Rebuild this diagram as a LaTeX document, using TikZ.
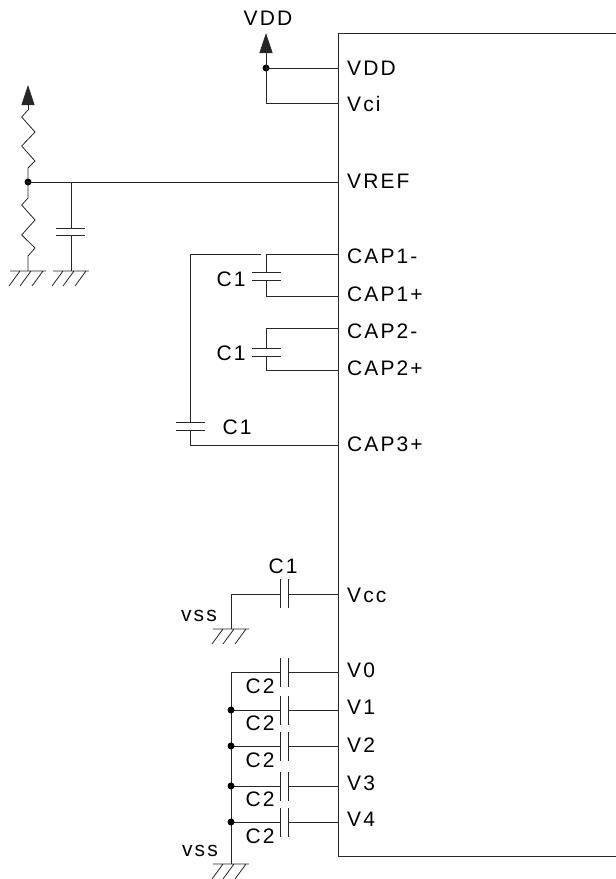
\documentclass[tikz,border=0pt]{standalone}
\usepackage{fontspec}
\setmainfont[LetterSpace=10]{Liberation Sans}
\usetikzlibrary{arrows.meta,calc}
\newcommand{\gnd}[1]{\draw[wire] ($(#1)+(-18,0)$) -- ($(#1)+(18,0)$)
    \foreach \i in {-8,3,15} {($(#1)+(\i,0)$) -- ($(#1)+(\i-11,15)$)};}

\begin{document}
\begin{tikzpicture}[x=1pt,y=-1pt,
    every node/.style={font=\fontsize{21}{23}\selectfont,inner sep=0pt},
    wire/.style={line width=.8pt,black!85},
    plate/.style={line width=1pt,black!85},
    pin/.style={anchor=west},
    dot/.style={circle,fill=black,minimum size=7pt},
    rail/.style={wire,-{Triangle[width=13pt,length=20pt]}}]
    \useasboundingbox (0,0) rectangle (616,879);

    % chip outline, runs off the right side
    \draw[wire] (616,33) -- (338,33) -- (338,856) -- (616,856);

    % pin name, wire height, text height
    \foreach \name/\txt/\yw/\yt in {
        vdd/VDD/68/68, vci/Vci/103.5/104, vref/VREF/182/181,
        capa/CAP1-/254/256, capb/CAP1+/296/294,
        capc/CAP2-/328/331, capd/CAP2+/370/368, cape/CAP3+/445/444,
        vcc/Vcc/594/595, va/V0/672/670, vb/V1/710/707,
        vc/V2/746/745, vd/V3/786/783, ve/V4/822/819} {
        \coordinate (e-\name) at (338,\yw);
        \node[pin] (p-\name) at (347,\yt) {\txt};
    }

    % supply at the top
    \node (lVDD) at (268,18) {VDD};
    \node[dot] (d1) at (266,68) {};
    \coordinate (t1) at (266,33);
    \draw[rail] (d1.center) -- (t1);
    \draw[wire] (d1.center) -- (e-vdd);
    \draw[wire] (d1.center) |- (e-vci);

    % divider on VREF
    \node[dot] (d2) at (28,182) {};
    \coordinate (t2) at (28,85);
    \coordinate (g1) at (28,271);
    \coordinate (g2) at (71,271);
    \draw[rail] (28,110) -- (t2);
    \draw[wire] (d2.center) -- (e-vref);
    \draw[wire] (d2.center) -- (28,168) -- (35,161) -- (21.7,146) -- (35,132) -- (21.7,117) -- (28,110);
    \draw[wire] (d2.center) -- (28,198) -- (21.7,205) -- (35,220) -- (21.7,235) -- (35,248) -- (28,256) -- (g1);
    \gnd{g1}
    \gnd{g2}
    \draw[wire] (71,182) -- (71,228);
    \draw[wire] (71,235.5) -- (g2);
    \draw[plate] (56,228) -- (85,228);
    \draw[plate] (56,235.5) -- (85,235.5);

    % flying capacitors
    \foreach \top/\bot/\pa/\pb/\ytxt in {capa/capb/272.7/280.7/279, capc/capd/348/356/353} {
        \draw[wire] (e-\top) -| (266.7,\pa);
        \draw[wire] (e-\bot) -| (266.7,\pb);
        \draw[plate] (252,\pa) -- (281,\pa);
        \draw[plate] (252,\pb) -- (281,\pb);
        \node at (231,\ytxt) {C1};
    }
    \draw[wire] (261,254) -| (190.5,422);
    \draw[wire] (e-cape) -| (190.5,430);
    \draw[plate] (176,422) -- (205,422);
    \draw[plate] (176,430) -- (205,430);
    \node (lC1c) at (237,427) {C1};

    % Vcc
    \coordinate (g3) at (231,629);
    \draw[wire] (g3) |- (280.5,594);
    \draw[wire] (288,594) -- (e-vcc);
    \draw[plate] (280.5,579) -- (280.5,608);
    \draw[plate] (288,579) -- (288,608);
    \gnd{g3}
    \node (lC1d) at (283,566) {C1};
    \node (lvss1) at (199,616) {vss};

    % V0 to V4
    \coordinate (g4) at (231,864);
    \draw[wire] (231,672) -- (g4);
    \gnd{g4}
    \node (lvss2) at (200,851) {vss};
    \foreach \name/\y/\ytxt in {va/672/686, vb/710/723, vc/746/760, vd/786/799, ve/822/836} {
        \draw[wire] (231,\y) -- (280.5,\y);
        \draw[wire] (288,\y) -- (e-\name);
        \draw[plate] (280.5,\y-14.5) -- (280.5,\y+14.5);
        \draw[plate] (288,\y-14.5) -- (288,\y+14.5);
        \node at (260,\ytxt) {C2};
    }
    \foreach \y in {710,746,786,822}
        \node[dot] at (231,\y) {};
\end{tikzpicture}
\end{document}
